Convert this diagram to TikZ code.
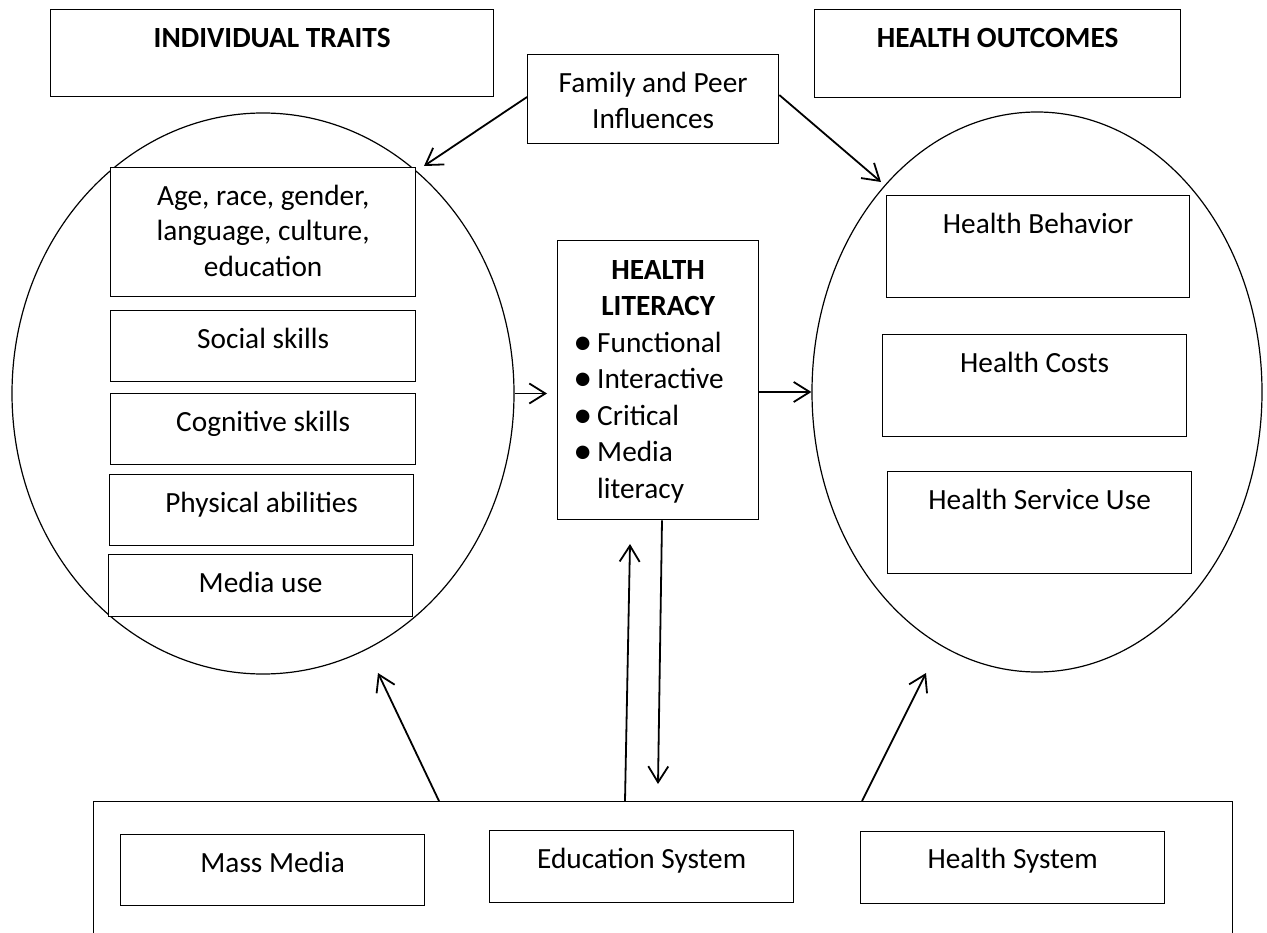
\documentclass[tikz,border=0pt]{standalone}
\usepackage{fontspec}
\setmainfont{Carlito}
\usetikzlibrary{arrows.meta,shapes.geometric,calc}
\newcommand\ts{\rule{0pt}{25pt}}
\newcommand\bul{\llap{\raisebox{-2pt}{\fontsize{38}{36}\selectfont\textbullet}\hspace{5pt}}}
\begin{document}
\begin{tikzpicture}[x=1pt,y=-1pt,
  box/.style={draw, line width=1.3pt, fill=white, inner sep=0pt, anchor=north west},
  txt/.style={inner sep=0pt, anchor=north, align=center, font=\fontsize{29.3}{36}\selectfont},
  btxt/.style={txt, font=\fontsize{29.3}{36.5}\selectfont\bfseries},
  oval/.style={draw, ellipse, line width=1.2pt, inner sep=0pt},
  arr/.style={line width=1.8pt, -{Straight Barb[length=16pt,width=20pt]}}]
\useasboundingbox (0,0) rectangle (1267,933);
\clip (0,0) rectangle (1267,933);

% ellipses
\node[oval, minimum width=502pt, minimum height=561pt] (lell) at (263,393.5) {};
\node[oval, minimum width=450pt, minimum height=560pt] (rell) at (1037,392) {};

% top boxes
\node[box, minimum width=443pt, minimum height=87pt] (ind) at (50,9) {};
\node[btxt] (indt) at ($(ind.north)+(0,13)$) {\ts INDIVIDUAL TRAITS};
\node[box, minimum width=251pt, minimum height=89pt] (fam) at (527,54) {};
\node[txt] (famt) at ($(fam.north)+(0,13)$) {\ts Family and Peer\\Influences};
\node[box, minimum width=366pt, minimum height=88pt] (ho) at (814,9) {};
\node[btxt] (hot) at ($(ho.north)+(0,13)$) {\ts HEALTH OUTCOMES};

% left column
\node[box, minimum width=305pt, minimum height=129pt] (age) at (110,167) {};
\node[txt, font=\fontsize{29.3}{35.5}\selectfont] (aget) at ($(age.north)+(0,13)$) {\ts Age, race, gender,\\language, culture,\\education};
\node[box, minimum width=305pt, minimum height=71pt] (soc) at (110,310) {};
\node[txt] (soct) at ($(soc.north)+(0,13)$) {\ts Social skills};
\node[box, minimum width=305pt, minimum height=71pt] (cog) at (110,393) {};
\node[txt] (cogt) at ($(cog.north)+(0,13)$) {\ts Cognitive skills};
\node[box, minimum width=304pt, minimum height=71pt] (phy) at (109,474) {};
\node[txt] (phyt) at ($(phy.north)+(0,13)$) {\ts Physical abilities};
\node[box, minimum width=304pt, minimum height=62pt] (med) at (108,554) {};
\node[txt] (medt) at ($(med.north)+(0,13)$) {\ts Media use};

% health literacy
\node[box, minimum width=201pt, minimum height=279pt] (lit) at (557,240) {};
\node[btxt] (litt) at ($(lit.north)+(0,14)$) {\ts HEALTH\\LITERACY};
\node[txt, font=\fontsize{29.3}{36.5}\selectfont, anchor=north west, align=left] (litl) at (597,327)
  {\ts\bul Functional\\\bul Interactive\\\bul Critical\\\bul Media\\literacy};

% right column
\node[box, minimum width=303pt, minimum height=102pt] (hb) at (886,195) {};
\node[txt] (hbt) at ($(hb.north)+(0,13)$) {\ts Health Behavior};
\node[box, minimum width=304pt, minimum height=102pt] (hc) at (882,334) {};
\node[txt] (hct) at ($(hc.north)+(0,13)$) {\ts Health Costs};
\node[box, minimum width=304pt, minimum height=102pt] (hsu) at (887,471) {};
\node[txt] (hsut) at ($(hsu.north)+(0,13)$) {\ts Health Service Use};

% bottom
\node[box, minimum width=1139pt, minimum height=200pt] (bot) at (93,801) {};
\node[box, minimum width=304pt, minimum height=71pt] (mm) at (120,834) {};
\node[txt] (mmt) at ($(mm.north)+(0,13)$) {\ts Mass Media};
\node[box, minimum width=304pt, minimum height=72pt] (es) at (489,830) {};
\node[txt] (est) at ($(es.north)+(0,13)$) {\ts Education System};
\node[box, minimum width=304pt, minimum height=72pt] (hs) at (860,831) {};
\node[txt] (hst) at ($(hs.north)+(0,12)$) {\ts Health System};

% arrow end points
\coordinate (tipL) at (424,166);
\coordinate (tipR) at (881,182);
\coordinate (tipBL) at (378,673);
\coordinate (tipBR) at (926,673);
\coordinate (tipUp) at (630,544);
\coordinate (tipDn) at (658,784);

% connectors
\draw[arr] ($(fam.north west)+(0,43)$) -- (tipL);
\draw[arr] ($(fam.north east)+(0,41)$) -- (tipR);
\draw[arr, shorten >=10pt] (lell.east) -- (lell.east -| lit.west);
\draw[arr] (lit.east |- rell.west) -- (rell.west);
\draw[arr] ($(bot.north west)+(346,0)$) -- (tipBL);
\draw[arr] ($(bot.north west)+(769,0)$) -- (tipBR);
\draw[arr] ($(bot.north west)+(532,0)$) -- (tipUp);
\draw[arr] ($(lit.south west)+(105,0)$) -- (tipDn);
\end{tikzpicture}
\end{document}
